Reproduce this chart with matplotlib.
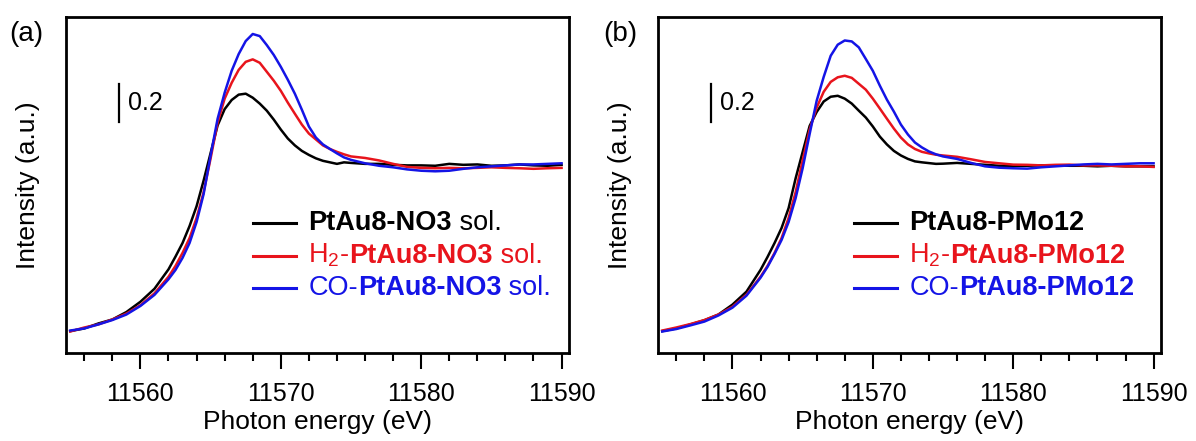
import numpy as np
import matplotlib
matplotlib.use("Agg")
import matplotlib.pyplot as plt
from matplotlib.lines import Line2D
from matplotlib.offsetbox import AnchoredOffsetbox, DrawingArea, HPacker, TextArea
from matplotlib.ticker import MultipleLocator

plt.rcParams["font.family"] = ["Liberation Sans", "DejaVu Sans"]
plt.rcParams["mathtext.fontset"] = "custom"
plt.rcParams["mathtext.rm"] = "Liberation Sans"
plt.rcParams["mathtext.it"] = "Liberation Sans:italic"
plt.rcParams["mathtext.bf"] = "Liberation Sans:bold"

# Pt L3-edge XANES, normalised absorption on a shared energy grid (eV)
energy = np.array([
    11555, 11556, 11557, 11558, 11559, 11560, 11561, 11562,
    11562.5, 11563, 11563.5, 11564, 11564.5, 11565, 11565.5, 11566,
    11566.5, 11567, 11567.5, 11568, 11568.5, 11569, 11569.5, 11570,
    11570.5, 11571, 11571.5, 11572, 11572.5, 11573, 11573.5, 11574,
    11574.5, 11575, 11576, 11577, 11578, 11579, 11580, 11581,
    11582, 11583, 11584, 11585, 11586, 11587, 11588, 11589, 11590])

# (a) NO3 solutions
no3_fresh = [
    0.136, 0.150, 0.176, 0.197, 0.236, 0.290, 0.358, 0.460,
    0.527, 0.598, 0.687, 0.791, 0.925, 1.070, 1.215, 1.300,
    1.348, 1.376, 1.381, 1.360, 1.329, 1.292, 1.245, 1.193,
    1.146, 1.110, 1.081, 1.060, 1.042, 1.029, 1.021, 1.013,
    1.021, 1.018, 1.013, 1.013, 1.008, 1.005, 1.005, 1.003,
    1.013, 1.008, 1.010, 1.003, 1.005, 1.010, 1.005, 1.003, 1.008]
no3_h2 = [
    0.134, 0.155, 0.171, 0.197, 0.228, 0.272, 0.334, 0.421,
    0.478, 0.546, 0.624, 0.729, 0.864, 1.042, 1.230, 1.355,
    1.438, 1.506, 1.548, 1.561, 1.543, 1.496, 1.449, 1.396,
    1.334, 1.276, 1.219, 1.172, 1.141, 1.110, 1.091, 1.076,
    1.063, 1.052, 1.044, 1.031, 1.013, 0.997, 0.992, 0.990,
    0.992, 0.990, 0.992, 0.995, 0.992, 0.990, 0.987, 0.990, 0.992]
no3_co = [
    0.139, 0.150, 0.171, 0.194, 0.223, 0.268, 0.326, 0.408,
    0.457, 0.520, 0.598, 0.708, 0.854, 1.057, 1.250, 1.386,
    1.501, 1.589, 1.657, 1.694, 1.683, 1.636, 1.584, 1.522,
    1.454, 1.381, 1.297, 1.209, 1.151, 1.115, 1.091, 1.068,
    1.047, 1.034, 1.016, 1.003, 0.995, 0.984, 0.977, 0.974,
    0.977, 0.987, 0.995, 1.000, 1.005, 1.010, 1.010, 1.013, 1.016]

# (b) PMo12 solids
pmo_fresh = [
    0.136, 0.150, 0.171, 0.193, 0.223, 0.275, 0.343, 0.457,
    0.525, 0.598, 0.677, 0.781, 0.937, 1.075, 1.212, 1.285,
    1.340, 1.365, 1.370, 1.355, 1.329, 1.292, 1.256, 1.209,
    1.156, 1.115, 1.081, 1.057, 1.039, 1.026, 1.021, 1.017,
    1.013, 1.014, 1.018, 1.013, 1.008, 1.003, 1.003, 1.003,
    1.005, 1.005, 1.003, 1.003, 1.000, 1.003, 1.000, 1.000, 1.000]
pmo_h2 = [
    0.139, 0.155, 0.173, 0.194, 0.223, 0.264, 0.327, 0.421,
    0.478, 0.546, 0.624, 0.729, 0.864, 1.031, 1.193, 1.308,
    1.391, 1.443, 1.467, 1.475, 1.464, 1.433, 1.402, 1.355,
    1.303, 1.250, 1.198, 1.151, 1.115, 1.091, 1.076, 1.068,
    1.061, 1.057, 1.050, 1.037, 1.023, 1.016, 1.009, 1.008,
    1.005, 1.008, 1.009, 1.005, 1.005, 1.003, 1.000, 1.000, 0.997]
pmo_co = [
    0.134, 0.147, 0.166, 0.186, 0.218, 0.259, 0.322, 0.416,
    0.473, 0.541, 0.614, 0.708, 0.833, 0.990, 1.170, 1.344,
    1.469, 1.580, 1.638, 1.660, 1.655, 1.624, 1.563, 1.501,
    1.423, 1.350, 1.287, 1.219, 1.167, 1.125, 1.099, 1.078,
    1.063, 1.052, 1.039, 1.018, 1.000, 0.993, 0.990, 0.988,
    0.995, 1.000, 1.005, 1.010, 1.013, 1.010, 1.013, 1.016, 1.016]

colors = ["#000000", "#e8141c", "#1414e6"]
FS = 18
FS_LABEL = 19
FS_LEGEND = 19.5

panels = [
    ("(a)", 0.008, [no3_fresh, no3_h2, no3_co], [
        [("PtAu8-NO3", "bold"), (" sol.", "normal")],
        [("H$_2$-", "normal"), ("PtAu8-NO3", "bold"), (" sol.", "normal")],
        [("CO-", "normal"), ("PtAu8-NO3", "bold"), (" sol.", "normal")],
    ], 0.371),
    ("(b)", 0.5045, [pmo_fresh, pmo_h2, pmo_co], [
        [("PtAu8-PMo12", "bold")],
        [("H$_2$-", "normal"), ("PtAu8-PMo12", "bold")],
        [("CO-", "normal"), ("PtAu8-PMo12", "bold")],
    ], 0.389),
]


def legend_row(ax, color, pieces, x, y):
    da = DrawingArea(31, 12, 0, 0)
    da.add_artist(Line2D([0, 31], [6, 6], color=color, lw=2.2))
    texts = [TextArea(s, textprops=dict(color=color, fontsize=FS_LEGEND, fontweight=w))
             for s, w in pieces]
    label = HPacker(children=texts, sep=0, pad=0, align="baseline")
    row = HPacker(children=[da, label], sep=9, pad=0, align="center")
    box = AnchoredOffsetbox(loc="center left", child=row, pad=0, borderpad=0,
                            frameon=False, bbox_to_anchor=(x, y),
                            bbox_transform=ax.transAxes)
    ax.add_artist(box)


fig = plt.figure(figsize=(11.96, 4.41), dpi=100)
lefts = [0.0552, 0.5502]

for (tag, tag_x, series, labels, leg_x), left in zip(panels, lefts):
    ax = fig.add_axes([left, 0.199, 0.4208, 0.7624])
    for y, c in zip(series, colors):
        ax.plot(energy, y, color=c, lw=1.8)

    ax.set_xlim(11554.7, 11590.55)
    ax.set_ylim(0.02, 1.783)
    ax.xaxis.set_major_locator(MultipleLocator(10))
    ax.xaxis.set_minor_locator(MultipleLocator(2))
    ax.tick_params(axis="x", which="major", direction="out", length=11.5,
                   width=1.5, labelsize=FS, pad=9)
    ax.tick_params(axis="x", which="minor", direction="out", length=6, width=1.5)
    ax.set_yticks([])
    for sp in ax.spines.values():
        sp.set_linewidth(2)

    ax.set_xlabel("Photon energy (eV)", fontsize=FS_LABEL, labelpad=3)
    ax.set_ylabel("Intensity (a.u.)", fontsize=FS_LABEL, labelpad=19)

    # 0.2 scale bar
    ax.plot([11558.5, 11558.5], [1.23, 1.43], color="black", lw=1.6)
    ax.text(11559.1, 1.33, "0.2", fontsize=FS, va="center", ha="left")

    for (pieces, c, fy) in zip(labels, colors, [0.387, 0.290, 0.194]):
        legend_row(ax, c, pieces, leg_x, fy)

    fig.text(tag_x, 0.953, tag, fontsize=20, va="top", ha="left")

fig.savefig("out.png", dpi=100)
